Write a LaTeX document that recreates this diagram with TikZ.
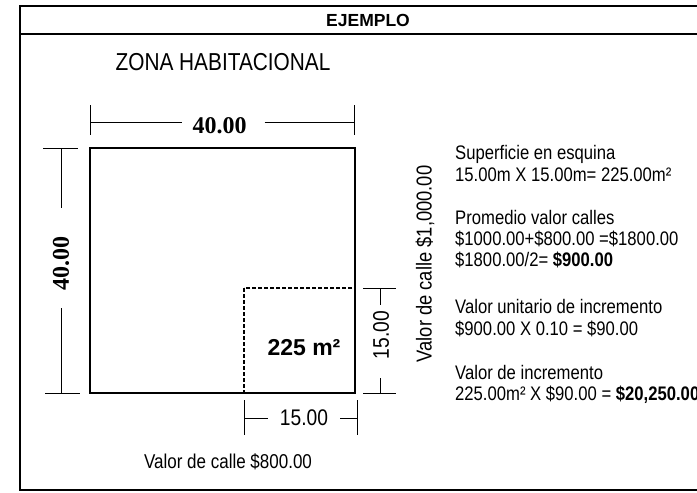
\documentclass[tikz,border=0pt]{standalone}
\usepackage{fontspec}
\setmainfont{Liberation Sans}
\newfontfamily\narrowsans[FakeStretch=0.85]{Liberation Sans}
\newfontfamily\boldserif{Liberation Serif}
\newcommand{\fsz}[1]{\fontsize{#1}{#1}\selectfont}

\tikzset{
  marco/.style={line width=1.4pt},
  lote/.style={line width=1.3pt},
  cota/.style={line width=0.9pt},
  cifra/.style={inner sep=0pt, font=\narrowsans\fsz{22.6}},
  renglon/.style={anchor=base west, inner sep=0pt, font=\narrowsans\fsz{19.6}},
}

\begin{document}
\begin{tikzpicture}[x=1pt,y=-1pt]
\useasboundingbox (0,0) rectangle (697,493);
% marco y encabezado
\draw[marco] (697,6) -- (20,6) -- (20,490) -- (697,490);
\draw[marco] (20,34) -- (697,34);
\node[inner sep=0pt, font=\bfseries\fsz{17.5}] (ejemplo) at (368,20) {EJEMPLO};
\node[inner sep=0pt, font=\narrowsans\fsz{24.5}] (zona) at (223,62) {ZONA HABITACIONAL};

% lote y superficie en esquina
\draw[lote] (90,148) rectangle (355,393);
\draw[lote, dash pattern=on 4pt off 2pt] (244,288) rectangle (355,393);
\node[inner sep=0pt, font=\bfseries\fsz{23}] (esquina) at (304,348) {225 m²};

% cota superior 40.00
\node[inner sep=0pt, font=\boldserif\bfseries\fsz{24}] (frente) at (219.5,126) {40.00};
\coordinate (fa) at (90,122);
\coordinate (fb) at (354,122);
\draw[cota] (90,105) -- (90,135);
\draw[cota] (354,105) -- (354,135);
\draw[cota] (fa) -- ([xshift=-10pt]frente.west |- fa);
\draw[cota] ([xshift=18pt]frente.east |- fb) -- (fb);

% cota izquierda 40.00
\node[rotate=90, inner sep=0pt, font=\boldserif\bfseries\fsz{24}] (fondo) at (61,263) {40.00};
\coordinate (la) at (61,148);
\coordinate (lb) at (61,393);
\draw[cota] (43,148) -- (78,148);
\draw[cota] (45,393) -- (80,393);
\draw[cota] (la) -- (61,208);
\draw[cota] (61,308) -- (lb);

% cota derecha 15.00
\node[rotate=90, cifra] (ladoDer) at (381,335) {15.00};
\coordinate (ra) at (380,288);
\coordinate (rb) at (380,393);
\draw[cota] (363,288) -- (396,288);
\draw[cota] (363,393) -- (396,393);
\draw[cota] (ra) -- (380,305);
\draw[cota] (380,378) -- (rb);

% cota inferior 15.00
\node[cifra] (ladoInf) at (304,418) {15.00};
\coordinate (ia) at (244,418);
\coordinate (ib) at (357,418);
\draw[cota] (244,400) -- (244,435);
\draw[cota] (357,400) -- (357,435);
\draw[cota] (ia) -- ([xshift=-12pt]ladoInf.west |- ia);
\draw[cota] ([xshift=12pt]ladoInf.east |- ib) -- (ib);

% valores de calle
\node[rotate=90, inner sep=0pt, font=\narrowsans\fsz{21.6}] (calleDer) at (425,264) {Valor de calle \$1,000.00};
\node[inner sep=0pt, font=\narrowsans\fsz{20}] (calleInf) at (228,462) {Valor de calle \$800.00};

% calculos
\node[renglon] (sup) at (455,159) {Superficie en esquina};
\node[renglon] (supCalc) at (455,181) {15.00m X 15.00m= 225.00m²};
\node[renglon] (prom) at (455,224) {Promedio valor calles};
\node[renglon] (promSuma) at (455,245) {\$1000.00+\$800.00 =\$1800.00};
\node[renglon] (promDiv) at (455,266) {\$1800.00/2= \textbf{\$900.00}};
\node[renglon] (unit) at (455,313) {Valor unitario de incremento};
\node[renglon] (unitCalc) at (455,335) {\$900.00 X 0.10 = \$90.00};
\node[renglon] (incr) at (455,379) {Valor de incremento};
\node[renglon] (incrCalc) at (455,400) {225.00m² X \$90.00 = \textbf{\$20,250.00}};
\end{tikzpicture}
\end{document}
